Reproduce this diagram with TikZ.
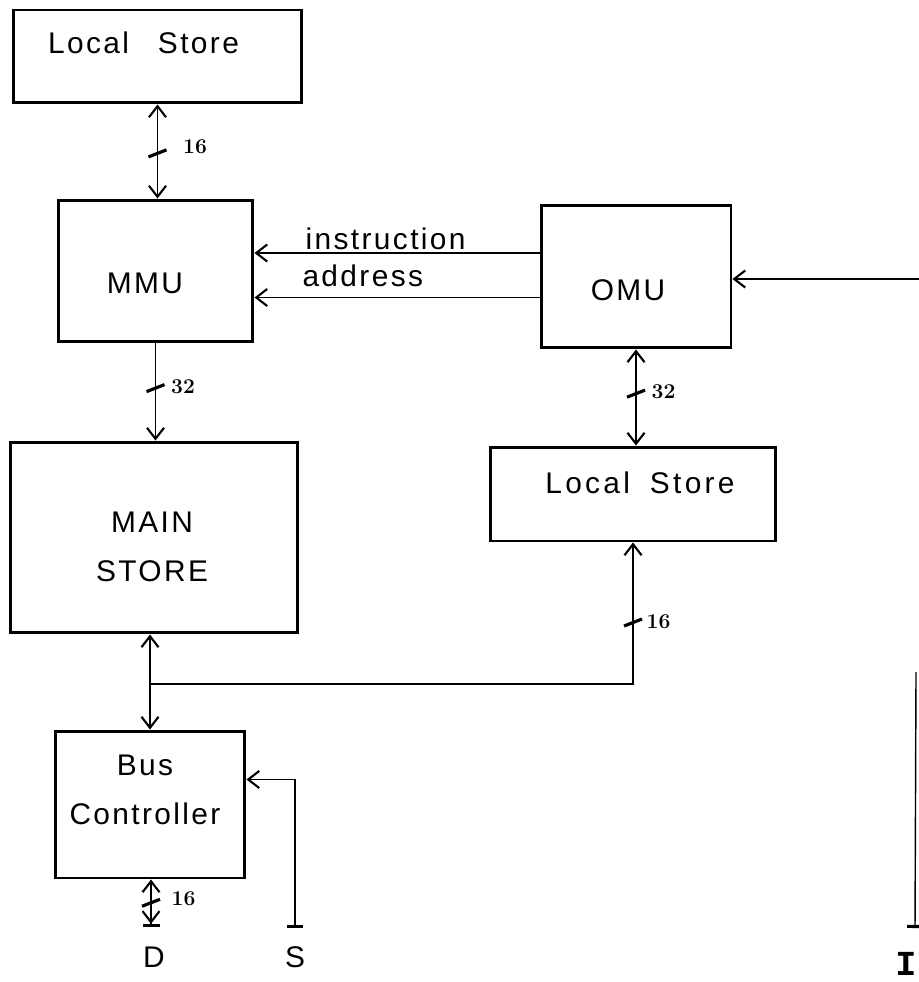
\documentclass[tikz,border=0pt]{standalone}
\usepackage{fontspec}
\setsansfont{Liberation Sans}[LetterSpace=8]
\newfontfamily\typefont{Liberation Mono}
\usetikzlibrary{arrows.meta,positioning}

\begin{document}
\begin{tikzpicture}[x=0.02cm, y=-0.02cm, line width=0.8pt,
  >={Straight Barb[length=2.2mm,width=3.4mm,line width=1.2pt]},
  box/.style={draw,line width=1.7pt,inner sep=0pt},
  txt/.style={font=\sffamily\fontsize{17}{28}\selectfont,inner sep=0pt,align=center},
  num/.style={font=\rmfamily\bfseries\fontsize{12}{14}\selectfont,inner sep=0pt,anchor=west},
  busmark/.style={line width=1.8pt}]
\useasboundingbox (0,0) rectangle (918,982);
% blocks
\node[box,minimum width=5.78cm,minimum height=1.86cm] (ls1) at (157.5,56.5) {};
\node[txt] (ls1t) at (143.5,43) {Local\hspace{0.58cm}Store};
\node[box,minimum width=3.9cm,minimum height=2.84cm] (mmu) at (155.5,271) {};
\node[txt] (mmut) at (145,283) {MMU};
\node[box,minimum width=3.8cm,minimum height=2.86cm] (omu) at (636,276.5) {};
\node[txt] (omut) at (628,290) {OMU};
\node[box,minimum width=5.72cm,minimum height=1.88cm] (ls2) at (633,494) {};
\node[txt] (ls2t) at (640,483) {\addfontfeatures{LetterSpace=11}Local\hspace{0.4cm}Store};
\node[box,minimum width=5.76cm,minimum height=3.82cm] (main) at (154,537.5) {};
\node[txt] (maint) at (152,547) {MAIN\\STORE};
\node[box,minimum width=3.8cm,minimum height=2.94cm] (bc) at (150,804.5) {};
\node[txt] (bct) at (145,790) {Bus\\Controller};
% free ends
\coordinate (dEnd) at (151,927);
\coordinate (sEnd) at (295,928);
\coordinate (iin) at (925,279);
\coordinate (itop) at (916,672);
\coordinate (ibot) at (915,928);
% connectors
\draw[<->] (ls1.south) -- (ls1.south |- mmu.north) coordinate[pos=.52] (t1);
\draw[->] (mmu.south) -- (mmu.south |- main.north) coordinate[pos=.46] (t2);
\draw[<->] (omu.south) -- (omu.south |- ls2.north) coordinate[pos=.46] (t3);
\draw[<->] (bc.north |- main.south) -- (bc.north) coordinate[pos=.52] (jn);
\draw[->] (jn) -| (ls2.south) coordinate[pos=.717] (t4);
\draw[->] ([yshift=0.47cm]omu.west) coordinate (ins) -- (ins -| mmu.east)
  node[txt,pos=.54,above=1.5pt] (inslbl) {instruction};
\draw[->] ([yshift=-0.42cm]omu.west) coordinate (adr) -- (adr -| mmu.east)
  node[txt,pos=.62,above=5.5pt] (adrlbl) {address};
\draw[->] (iin) -- (iin -| omu.east);
\draw[{Bar[width=3.2mm,line width=1.8pt]}->] (sEnd) |- ([yshift=0.5cm]bc.east);
\draw[<-{Straight Barb[length=2.2mm,width=3.4mm,line width=1.2pt]Bar[width=3.4mm,line width=1.8pt]}] ([xshift=0.02cm]bc.south) -- (dEnd) coordinate[pos=.49] (t5);
\draw[-{Bar[width=3.2mm,line width=1.8pt]}] (itop) -- (ibot);
% bus widths
\draw[busmark] ([shift={(-9,3.5)}]t1) -- ([shift={(9,-3.5)}]t1);
\node[num] (w1) at ([shift={(25,-6.5)}]t1) {16};
\draw[busmark] ([shift={(-9,3.5)}]t2) -- ([shift={(9,-3.5)}]t2);
\node[num] (w2) at ([shift={(15,-1)}]t2) {32};
\draw[busmark] ([shift={(-9,3.5)}]t3) -- ([shift={(9,-3.5)}]t3);
\node[num] (w3) at ([shift={(15,-2)}]t3) {32};
\draw[busmark] ([shift={(-9,3.5)}]t4) -- ([shift={(9,-3.5)}]t4);
\node[num] (w4) at ([shift={(13,-1)}]t4) {16};
\draw[busmark] ([shift={(-9,3.5)}]t5) -- ([shift={(9,-3.5)}]t5);
\node[num] (w5) at ([shift={(20,-4)}]t5) {16};
% terminals
\node[txt] (dlbl) at (154,957) {D};
\node[txt] (slbl) at (295,957) {S};
\node[font=\typefont\bfseries\fontsize{20}{22}\selectfont,inner sep=0pt] (ilbl) at (906,964) {I};
\end{tikzpicture}
\end{document}
